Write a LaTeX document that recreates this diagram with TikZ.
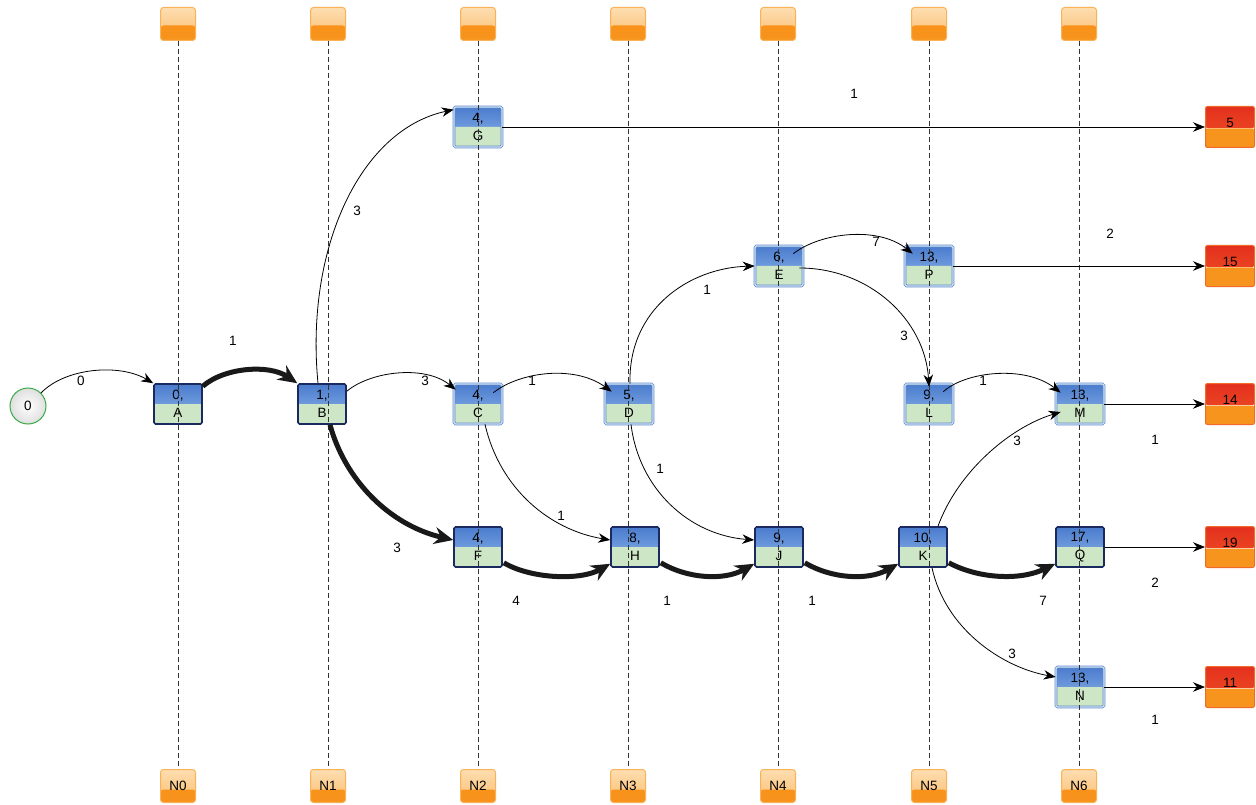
\documentclass[tikz,border=0pt]{standalone}
\usepackage{fontspec}
\setmainfont{Liberation Sans}
\usetikzlibrary{arrows.meta,shadings}
\definecolor{bluetop}{HTML}{4A7BCD}
\definecolor{bluebot}{HTML}{93BAEC}
\definecolor{greenfill}{HTML}{CDE6C5}
\definecolor{critborder}{HTML}{1B2A5E}
\definecolor{normborder}{HTML}{5F8ACB}
\definecolor{normdouble}{HTML}{D2E2F5}
\definecolor{orlight}{HTML}{FDDDB0}
\definecolor{ormid}{HTML}{FBBE6E}
\definecolor{ordark}{HTML}{F7941D}
\definecolor{orborder}{HTML}{F9B257}
\definecolor{redtop}{HTML}{E4301E}
\definecolor{redbot}{HTML}{EF5425}
\definecolor{redborder}{HTML}{F26A2A}
\definecolor{startgreen}{HTML}{3AAA48}
\definecolor{dashgray}{HTML}{333333}
\begin{document}
\begin{tikzpicture}[x=1pt,y=-1pt,
  lbl/.style={font=\fontsize{13.5}{15}\selectfont, inner sep=0pt},
  task/.style={rectangle, rounded corners=1.5pt, minimum width=48pt, minimum height=40pt, inner sep=0pt,
    align=center, font=\fontsize{13.5}{18}\selectfont,
    path picture={
      \shade[top color=bluetop, bottom color=bluebot]
        (path picture bounding box.north west) rectangle (path picture bounding box.east);
      \fill[greenfill]
        (path picture bounding box.west) rectangle (path picture bounding box.south east);
    }},
  crit/.style={task, draw=critborder, line width=1.6pt},
  norm/.style={task, draw=normborder, double=normdouble, double distance=1.2pt, line width=0.7pt},
  colbox/.style={rectangle, rounded corners=3pt, minimum width=35pt, minimum height=33pt,
    inner sep=0pt, draw=orborder, line width=1pt, font=\fontsize{13.5}{15}\selectfont,
    path picture={
      \shade[top color=orlight, bottom color=ormid]
        (path picture bounding box.north west) rectangle (path picture bounding box.south east);
      \shade[top color=ordark!90!orange, bottom color=ordark]
        (path picture bounding box.south west) rectangle ([yshift=#1]path picture bounding box.south east);
    }},
  endbox/.style={rectangle, rounded corners=2pt, minimum width=49pt, minimum height=41pt,
    inner sep=0pt, draw=redborder, line width=1pt, font=\fontsize{13.5}{15}\selectfont,
    text depth=0pt,
    path picture={
      \shade[top color=redtop, bottom color=redbot]
        (path picture bounding box.north west) rectangle ([yshift=-1pt]path picture bounding box.east);
      \fill[ordark]
        (path picture bounding box.south west) rectangle ([yshift=19pt]path picture bounding box.south east);
    }},
  startnode/.style={circle, minimum size=36pt, inner sep=0pt, draw=startgreen, line width=1pt,
    inner color=white, outer color=gray!25, font=\fontsize{13.5}{15}\selectfont},
  vline/.style={draw=dashgray, line width=0.8pt, dash pattern=on 5pt off 3pt},
  edgeN/.style={draw=black, line width=0.8pt, -{Stealth[length=12pt,width=9.5pt]}},
  edgeC/.style={draw=black!90, line width=5pt, -{Stealth[length=19pt,width=17pt]}}
]
\useasboundingbox (0,0) rectangle (1256,805);

% column header/footer boxes
\foreach \i/\x in {0/178,1/328,2/478,3/628,4/778,5/929,6/1079}{
  \node[colbox=15pt] (t\i) at (\x,24) {};
  \node[colbox=13pt, text depth=0pt] (b\i) at (\x,786) {N\i};
}

% start node
\node[startnode] (s) at (28,406) {0};

% task nodes
\node[crit] (A) at (178,404) {0,\\A};
\node[crit] (B) at (322,404) {1,\\B};
\node[norm] (C) at (478,404) {4,\\C};
\node[norm] (D) at (629,404) {5,\\D};
\node[norm] (G) at (478,127) {4,\\G};
\node[norm] (E) at (779,266) {6,\\E};
\node[norm] (P) at (929,266) {13,\\P};
\node[norm] (L) at (929,404) {9,\\L};
\node[norm] (M) at (1080,404) {13,\\M};
\node[crit] (F) at (478,547) {4,\\F};
\node[crit] (H) at (635,547) {8,\\H};
\node[crit] (J) at (779,547) {9,\\J};
\node[crit] (K) at (923,547) {10,\\K};
\node[crit] (Q) at (1080,547) {17,\\Q};
\node[norm] (N) at (1080,687) {13,\\N};

% end boxes
\node[endbox] (r5) at (1230,127) {\raisebox{9pt}{5}};
\node[endbox] (r15) at (1230,266) {\raisebox{9pt}{15}};
\node[endbox] (r14) at (1230,404) {\raisebox{9pt}{14}};
\node[endbox] (r19) at (1230,547) {\raisebox{9pt}{19}};
\node[endbox] (r11) at (1230,687) {\raisebox{9pt}{11}};

% dashed column lines
\foreach \i in {0,...,6}{ \draw[vline] (t\i.south) -- (b\i.north); }

% thin edges
\draw[edgeN] (s.45) .. controls +(24,-25) and +(-34,-20) .. (A.north west);
\draw[edgeN] ([xshift=-4pt]B.north) .. controls +(-13,-134) and +(-94,20) .. ([yshift=-3pt]G.north west);
\draw[edgeN] ([yshift=-8pt]B.north east) .. controls +(24,-20) and +(-31,-25) .. ([xshift=2pt,yshift=-6pt]C.north west);
\draw[edgeN] ([xshift=-9pt,yshift=-9pt]C.north east) .. controls +(27,-21) and +(-37,-27) .. ([xshift=7pt,yshift=-8pt]D.north west);
\draw[edgeN] ([xshift=7pt]C.south) .. controls +(15,65) and +(-60,-10) .. ([yshift=7pt]H.west);
\draw[edgeN] ([xshift=1pt]D.north) .. controls +(-2,-75) and +(-65,2) .. (E.west);
\draw[edgeN] ([xshift=2pt]D.south) .. controls +(8,65) and +(-65,-5) .. ([yshift=7pt]J.west);
\draw[edgeN] ([xshift=-10pt,yshift=-8pt]E.north east) .. controls +(27,-21) and +(-35,-28) .. ([xshift=8pt,yshift=-8pt]P.north west);
\draw[edgeN] ([xshift=-4pt,yshift=-2pt]E.east) .. controls +(70,0) and +(-4,-67) .. ([yshift=-3pt]L.north);
\draw[edgeN] ([xshift=-10pt,yshift=-8pt]L.north east) .. controls +(22,-20) and +(-36,-28) .. ([xshift=5pt,yshift=-9pt]M.north west);
\draw[edgeN] ([xshift=15pt]K.north) .. controls +(20,-55) and +(-50,15) .. ([xshift=5pt,yshift=-8pt]M.west);
\draw[edgeN] ([xshift=9pt]K.south) .. controls +(13,60) and +(-55,-10) .. ([yshift=10pt]N.west);
\draw[edgeN] (G.east) -- (r5.west);
\draw[edgeN] (P.east) -- (r15.west);
\draw[edgeN] (M.east) -- (r14.west);
\draw[edgeN] (Q.east) -- (r19.west);
\draw[edgeN] (N.east) -- (r11.west);

% critical edges
\draw[edgeC] ([yshift=-3pt]A.north east) .. controls +(22,-19) and +(-28,-19) .. (B.north west);
\draw[edgeC] ([xshift=8pt]B.south) .. controls +(15,55) and +(-64,-15) .. ([yshift=7pt]F.west);
\draw[edgeC] ([xshift=1pt,yshift=5pt]F.south east) .. controls +(27,16) and +(-30,17) .. ([yshift=4pt]H.south west);
\draw[edgeC] ([xshift=1pt,yshift=5pt]H.south east) .. controls +(27,16) and +(-30,17) .. ([yshift=4pt]J.south west);
\draw[edgeC] ([xshift=1pt,yshift=5pt]J.south east) .. controls +(27,16) and +(-30,17) .. ([yshift=4pt]K.south west);
\draw[edgeC] ([xshift=1pt,yshift=5pt]K.south east) .. controls +(30,16) and +(-35,17) .. ([yshift=4pt]Q.south west);

% edge labels
\node[lbl] (l1) at (81,381) {0};
\node[lbl] (l2) at (233,341) {1};
\node[lbl] (l3) at (357,211) {3};
\node[lbl] (l4) at (425,381) {3};
\node[lbl] (l5) at (397,548) {3};
\node[lbl] (l6) at (532,381) {1};
\node[lbl] (l7) at (561,516) {1};
\node[lbl] (l8) at (707,290) {1};
\node[lbl] (l9) at (660,469) {1};
\node[lbl] (l10) at (876,242) {7};
\node[lbl] (l11) at (904,336) {3};
\node[lbl] (l12) at (854,94) {1};
\node[lbl] (l13) at (1110,234) {2};
\node[lbl] (l14) at (983,381) {1};
\node[lbl] (l15) at (1155,440) {1};
\node[lbl] (l16) at (1017,441) {3};
\node[lbl] (l17) at (516,601) {4};
\node[lbl] (l18) at (667,601) {1};
\node[lbl] (l19) at (812,601) {1};
\node[lbl] (l20) at (1043,601) {7};
\node[lbl] (l21) at (1155,583) {2};
\node[lbl] (l22) at (1012,654) {3};
\node[lbl] (l23) at (1155,720) {1};
\end{tikzpicture}
\end{document}
